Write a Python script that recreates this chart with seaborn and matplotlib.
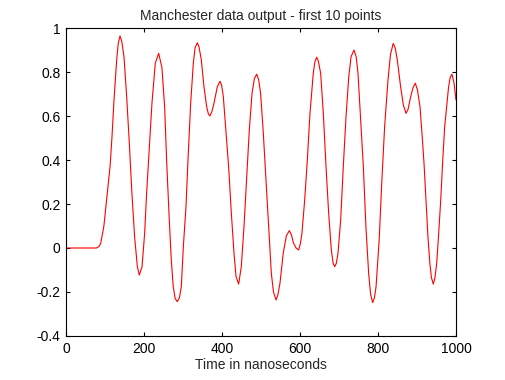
import matplotlib
matplotlib.use("Agg")
import matplotlib.pyplot as plt
import seaborn as sns

# Manchester-coded data after filtering
time_ns = [0, 78, 84, 89, 97, 106, 113, 118, 123, 130, 134, 138.5, 143, 148.7, 155.6,
           162.4, 169, 176, 183, 188, 195, 201.7, 206.8, 213.7, 220.5, 229, 237.6, 246,
           253, 258, 264, 270, 275, 280, 285.5, 291, 295.7, 300.9, 307.7, 312.8, 319.7,
           326.5, 331, 336.7, 341, 347, 353.8, 360.7, 365, 369, 374, 379.5, 388, 395, 399,
           403.4, 410, 417, 424, 430.8, 436, 442.7, 449.5, 456.4, 463, 470, 477, 483, 489,
           494, 499, 506, 512.8, 519.7, 526.5, 532, 538.5, 543, 548.7, 557, 565, 572.6,
           578, 583, 590, 596.6, 601, 605, 612, 618.8, 625.6, 634, 638, 642.7, 647, 653,
           659.8, 666.7, 673.5, 680.3, 685, 689, 693, 697.4, 704.3, 711, 718, 725, 731,
           738.5, 744, 748.7, 755.6, 762.4, 769, 776, 781, 786.3, 791, 795, 803, 810, 817,
           825.6, 832, 839, 844, 849.5, 858, 865, 871.8, 877, 883.8, 890, 895.7, 901, 907.7,
           912.8, 918, 923, 928, 933, 937, 941.8, 946, 950.5, 955.6, 960.8, 966, 971, 976,
           981, 985, 989.7, 995, 1000]
amplitude = [0, 0, 0.006, 0.021, 0.097, 0.25, 0.37, 0.506, 0.67, 0.855, 0.93, 0.964, 0.94,
             0.87, 0.688, 0.476, 0.25, 0.05, -0.085, -0.123, -0.085, 0.067, 0.25, 0.46, 0.66,
             0.84, 0.885, 0.82, 0.64, 0.40, 0.16, -0.055, -0.176, -0.23, -0.244, -0.225,
             -0.176, 0.006, 0.188, 0.4, 0.658, 0.84, 0.91, 0.933, 0.915, 0.855, 0.733, 0.642,
             0.61, 0.6, 0.62, 0.658, 0.733, 0.758, 0.74, 0.688, 0.536, 0.37, 0.158, -0.024,
             -0.13, -0.164, -0.085, 0.097, 0.31, 0.536, 0.703, 0.77, 0.79, 0.765, 0.703, 0.52,
             0.31, 0.097, -0.115, -0.2, -0.236, -0.215, -0.16, -0.024, 0.055, 0.079, 0.06,
             0.024, 0.0, -0.009, 0.02, 0.067, 0.218, 0.4, 0.612, 0.794, 0.845, 0.867, 0.85,
             0.794, 0.612, 0.37, 0.158, -0.009, -0.07, -0.085, -0.07, -0.024, 0.127, 0.37,
             0.597, 0.779, 0.87, 0.9, 0.87, 0.794, 0.582, 0.37, 0.097, -0.115, -0.21, -0.248,
             -0.225, -0.176, 0.036, 0.31, 0.552, 0.764, 0.88, 0.93, 0.91, 0.855, 0.733, 0.65,
             0.612, 0.63, 0.688, 0.73, 0.749, 0.72, 0.642, 0.52, 0.385, 0.218, 0.052, -0.07,
             -0.135, -0.164, -0.135, -0.07, 0.067, 0.218, 0.4, 0.552, 0.642, 0.733, 0.775,
             0.79, 0.749, 0.673]

x_ticks = [0, 200, 400, 600, 800, 1000]
y_ticks = [-0.4, -0.2, 0, 0.2, 0.4, 0.6, 0.8, 1]

sns.set_style("ticks")
plt.rcParams['font.family'] = ['Liberation Sans Narrow', 'Liberation Sans', 'DejaVu Sans']

fig = plt.figure(figsize=(5.06, 3.80), dpi=100)
ax = fig.add_axes([0.1304, 0.1158, 0.7708, 0.8105])

sns.lineplot(x=time_ns, y=amplitude, ax=ax, color='red', linewidth=0.8, sort=False)

ax.set_xlim(0, 1000)
ax.set_ylim(-0.4, 1)
ax.set_xticks(x_ticks)
ax.set_xticklabels([str(t) for t in x_ticks])
ax.set_yticks(y_ticks)
ax.set_yticklabels(['-0.4', '-0.2', '0', '0.2', '0.4', '0.6', '0.8', '1'])
ax.tick_params(direction='in', length=3, width=0.8, top=True, right=True,
               labelsize=10, colors='black', pad=4)
for s in ax.spines.values():
    s.set_visible(True)
    s.set_linewidth(0.8)
    s.set_color('black')

ax.set_title('Manchester data output - first 10 points', fontsize=10, pad=6)
ax.set_xlabel('Time in nanoseconds', fontsize=10, labelpad=2)

fig.savefig('out.png', dpi=100, facecolor='white')
